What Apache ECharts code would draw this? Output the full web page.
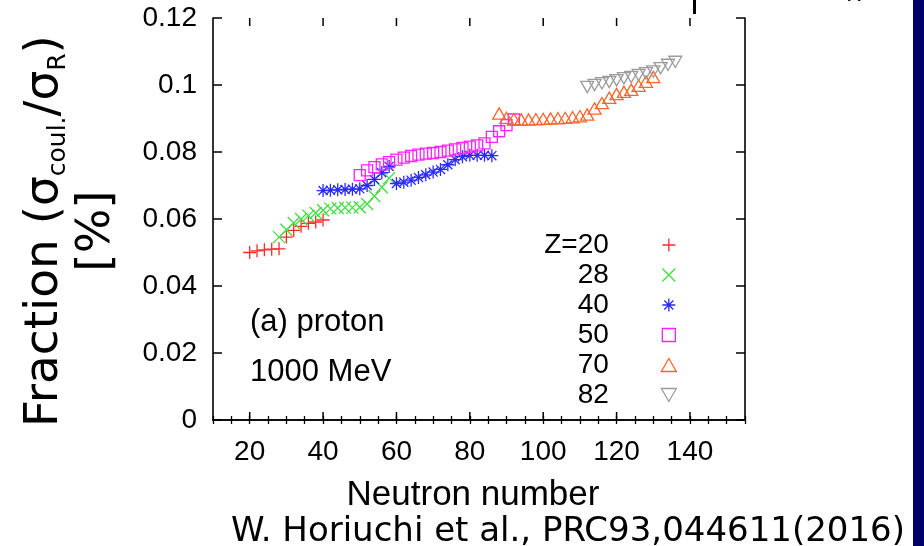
<!DOCTYPE html>
<html><head><meta charset="utf-8">
<script src="https://cdn.jsdelivr.net/npm/echarts@6/dist/echarts.min.js"></script>
<style>html,body{margin:0;padding:0;background:#fff;overflow:hidden}#c{width:924px;height:546px}</style>
</head><body><div id="c"></div>
<script>
// ---- data ----
const n20 = [20,22,24,26,28,30,32,34,36,38,40];
const v20 = [0.0500,0.0505,0.0508,0.0510,0.0511,0.0546,0.0566,0.0578,0.0587,0.0591,0.0597];

const n28 = [28,30,32,34,36,38,40,42,44,46,48,50,52,54,56,58];
const v28 = [0.0546,0.0568,0.0588,0.0600,0.0610,0.0618,0.0626,0.0631,0.0633,0.0634,0.0634,0.0635,0.0645,0.0668,0.0695,0.0722];

const n40 = [40,42,44,46,48,50,52,54,56,58,60,62,64,66,68,70,72,74,76,78,80,82,84,86];
const v40 = [0.0685,0.0686,0.0687,0.0688,0.0689,0.0690,0.0700,0.0718,0.0738,0.0757,0.0706,0.0710,0.0716,0.0724,0.0732,0.0740,0.0748,0.0762,0.0777,0.0786,0.0790,0.0790,0.0790,0.0789];

const n50 = [50,52,54,56,58,60,62,64,66,68,70,72,74,76,78,80,82,84,86,88,90,92];
const v50 = [0.0731,0.0745,0.0755,0.0763,0.0770,0.0777,0.0783,0.0788,0.0792,0.0795,0.0797,0.0800,0.0804,0.0808,0.0812,0.0816,0.0820,0.0826,0.0845,0.0862,0.0880,0.0897];

const n70 = [88,90,92,94,96,98,100,102,104,106,108,110,112,114,116,118,120,122,124,126,128,130];
const v70 = [0.0915,0.0902,0.0898,0.0897,0.0897,0.0898,0.0899,0.0900,0.0901,0.0902,0.0904,0.0907,0.0912,0.0930,0.0946,0.0962,0.0973,0.0980,0.0986,0.0998,0.1010,0.1024];

const n82 = [112,114,116,118,120,122,124,126,128,130,132,134,136];
const v82 = [0.0994,0.1000,0.1005,0.1009,0.1014,0.1020,0.1024,0.1030,0.1035,0.1040,0.1050,0.1060,0.1069];

const seriesNames = ['Z=20','28','40','50','70','82'];
const xTickLabels = ['20','40','60','80','100','120','140'];
const xMajorTicks = [20,40,60,80,100,120,140];

// ---- styling ----
const SYM_PLUS = 'path://M5,0L5,10M0,5L10,5';
const SYM_CROSS = 'path://M0,0L10,10M10,0L0,10';
const SYM_STAR = 'path://M5,0L5,10M0,5L10,5M1.5,1.5L8.5,8.5M8.5,1.5L1.5,8.5';
const SYM_SQUARE = 'path://M0,0L10,0L10,10L0,10Z';
const SYM_TRI = 'path://M5,0L10,8.66L0,8.66Z';
const SYM_ITRI = 'path://M0,0L10,0L5,8.66Z';

const defs = [
  {n:n20, v:v20, color:'#ff2a2a', symbol:SYM_PLUS, size:13},
  {n:n28, v:v28, color:'#3ee03e', symbol:SYM_CROSS, size:12},
  {n:n40, v:v40, color:'#2a2aff', symbol:SYM_STAR, size:13},
  {n:n50, v:v50, color:'#ff22ff', symbol:SYM_SQUARE, size:11},
  {n:n70, v:v70, color:'#ff6428', symbol:SYM_TRI, size:13},
  {n:n82, v:v82, color:'#9c9c9c', symbol:SYM_ITRI, size:13}
];

const series = defs.map((d, i) => ({
  name: seriesNames[i],
  type: 'scatter',
  data: d.n.map((x, k) => [x, d.v[k]]),
  symbol: d.symbol,
  symbolSize: d.size,
  symbolKeepAspect: true,
  itemStyle: {color: 'rgba(0,0,0,0)', borderColor: d.color, borderWidth: 1.3, opacity: 1},
  emphasis: {disabled: true},
  z: 3 + i * 0.01
}));

series.push({
  type: 'custom',
  silent: true,
  clip: false,
  z: 6,
  data: xMajorTicks.map(v => [v, 0]),
  encode: {x: 0, y: 1},
  renderItem: (params, api) => {
    const b = api.coord([api.value(0), 0]);
    const t = api.coord([api.value(0), 0.12]);
    return {type: 'group', children: [
      {type: 'line', shape: {x1: b[0], y1: b[1], x2: b[0], y2: b[1] - 8}, style: {stroke: '#000', lineWidth: 1.5}},
      {type: 'line', shape: {x1: t[0], y1: t[1], x2: t[0], y2: t[1] + 8}, style: {stroke: '#000', lineWidth: 1.5}}
    ]};
  }
});

const FONT = 'Liberation Sans';
const axisLineStyle = {color: '#000', width: 1.6};

const chart = echarts.init(document.getElementById('c'), null, {renderer: 'canvas'});
chart.setOption({
  animation: false,
  backgroundColor: '#fff',
  grid: {left: 213, right: 179, top: 18, bottom: 126, containLabel: false, outerBoundsMode: 'none'},
  xAxis: [
    {
      type: 'value', position: 'bottom', min: 10, max: 155, interval: 5,
      axisLine: {show: true, lineStyle: axisLineStyle},
      axisTick: {show: true, inside: true, length: 4, lineStyle: {color: '#000', width: 1.3}},
      splitLine: {show: false},
      axisLabel: {
        show: true, margin: 18, color: '#000', fontFamily: FONT, fontSize: 28,
        formatter: v => (xTickLabels.indexOf(String(v)) >= 0 ? String(v) : '')
      },
      name: 'Neutron number', nameLocation: 'middle', nameGap: 58,
      nameTextStyle: {color: '#000', fontFamily: FONT, fontSize: 35, padding: [0, 12, 0, 0]}
    },
    {
      type: 'value', position: 'top', min: 10, max: 155, interval: 5,
      axisLine: {show: true, lineStyle: axisLineStyle},
      axisTick: {show: true, inside: true, length: 4, lineStyle: {color: '#000', width: 1.3}},
      splitLine: {show: false},
      axisLabel: {show: false}
    }
  ],
  yAxis: [
    {
      type: 'value', position: 'left', min: 0, max: 0.12, interval: 0.02,
      axisLine: {show: true, lineStyle: axisLineStyle},
      axisTick: {show: true, inside: true, length: 9, lineStyle: {color: '#000', width: 1.5}},
      splitLine: {show: false},
      axisLabel: {show: true, margin: 16, color: '#000', fontFamily: FONT, fontSize: 28}
    },
    {
      type: 'value', position: 'right', min: 0, max: 0.12, interval: 0.02,
      axisLine: {show: true, lineStyle: axisLineStyle},
      axisTick: {show: true, inside: true, length: 9, lineStyle: {color: '#000', width: 1.5}},
      splitLine: {show: false},
      axisLabel: {show: false}
    }
  ],
  legend: {
    data: seriesNames,
    orient: 'vertical',
    right: 242,
    top: 225,
    itemWidth: 110,
    itemHeight: 13,
    itemGap: 0,
    selectedMode: false,
    align: 'right',
    itemStyle: {borderWidth: 1.3},
    textStyle: {color: '#000', fontFamily: FONT, fontSize: 28, lineHeight: 30}
  },
  series: series,
  graphic: [
    {type: 'text', left: 250, top: 307, style: {text: '(a) proton', font: '31px "Liberation Sans"', fill: '#000'}},
    {type: 'text', left: 250, top: 357, style: {text: '1000 MeV', font: '31px "Liberation Sans"', fill: '#000'}},
    {
      type: 'text', x: 71, y: 231, rotation: Math.PI / 2,
      style: {
        text: '{m|Fraction (σ}{s|coul.}{m|/σ}{s|R}{m|)}\n{m|[%]}',
        align: 'center', verticalAlign: 'middle', fill: '#000',
        rich: {
          m: {fontFamily: 'DejaVu Sans', fontSize: 47, lineHeight: 52, fill: '#000'},
          s: {fontFamily: 'DejaVu Sans', fontSize: 25, lineHeight: 20, verticalAlign: 'bottom', fill: '#000'}
        }
      }
    },
    {type: 'text', right: 19, top: 515, style: {text: 'W. Horiuchi et al., PRC93,044611(2016)', font: '34px "DejaVu Sans"', fill: '#000'}},
    {type: 'rect', shape: {x: 913, y: 0, width: 11, height: 546}, style: {fill: '#00006b'}},
    {type: 'rect', shape: {x: 693, y: 0, width: 3, height: 14}, style: {fill: '#000'}},
    {type: 'text', x: 846, y: -16, style: {text: 'R', font: '22px "DejaVu Sans"', fill: '#000'}}
  ]
});
</script>
</body></html>
